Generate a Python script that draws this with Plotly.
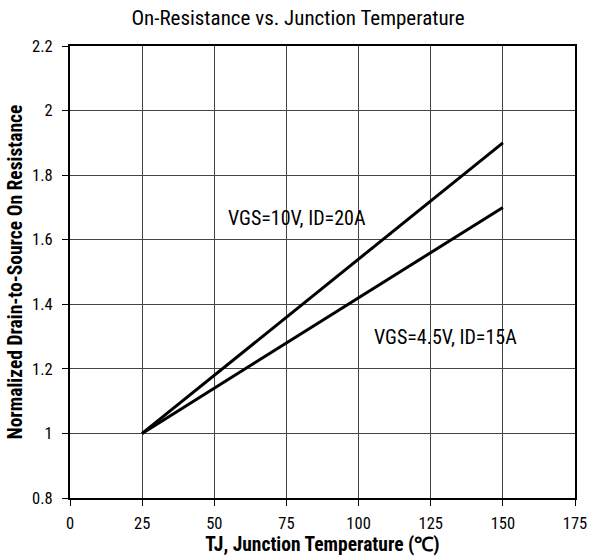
import plotly.graph_objects as go

temps = [25, 150]
r_vgs10 = [1.0, 1.9]
r_vgs45 = [1.0, 1.7]
x_ticks = [0, 25, 50, 75, 100, 125, 150, 175]
y_ticks = [0.8, 1.0, 1.2, 1.4, 1.6, 1.8, 2.0, 2.2]
y_tick_labels = ["0.8", "1", "1.2", "1.4", "1.6", "1.8", "2", "2.2"]

FONT = "Roboto Condensed, Liberation Sans, sans-serif"

fig = go.Figure()
fig.add_trace(go.Scatter(x=temps, y=r_vgs10, mode="lines",
                         line=dict(color="black", width=3), showlegend=False))
fig.add_trace(go.Scatter(x=temps, y=r_vgs45, mode="lines",
                         line=dict(color="black", width=3), showlegend=False))

fig.add_annotation(x=78.5, y=1.667, text="VGS=10V, ID=20A", showarrow=False,
                   font=dict(family=FONT, size=20, color="black"))
fig.add_annotation(x=130, y=1.30, text="VGS=4.5V, ID=15A", showarrow=False,
                   font=dict(family=FONT, size=20, color="black"))

fig.update_layout(
    width=589, height=557,
    margin=dict(l=70, r=14, t=46, b=59),
    paper_bgcolor="white", plot_bgcolor="white",
    font=dict(family=FONT, size=16, color="black"),
    title=dict(text="On-Resistance vs. Junction Temperature", x=0.506, xanchor="center",
               y=0.968, yanchor="middle", font=dict(family=FONT, size=21, color="black")),
)
fig.update_xaxes(range=[0, 175], tickvals=x_ticks, ticktext=[str(v) for v in x_ticks],
                 showgrid=True, gridcolor="#444", gridwidth=1,
                 showline=True, linecolor="black", linewidth=2, mirror=True,
                 ticks="outside", ticklen=6, tickcolor="black", zeroline=False,
                 automargin=False, ticklabelstandoff=3,
                 title=dict(text="<b>TJ, Junction Temperature (℃)</b>", standoff=3,
                            font=dict(family=FONT, size=19.5, color="black")),
                 tickfont=dict(family=FONT, size=16.5, color="black"))
fig.update_yaxes(range=[0.8, 2.2], tickvals=y_ticks, ticktext=y_tick_labels,
                 showgrid=True, gridcolor="#444", gridwidth=1,
                 showline=True, linecolor="black", linewidth=2, mirror=True,
                 ticks="outside", ticklen=6, tickcolor="black", zeroline=False,
                 automargin=False, ticklabelstandoff=6,
                 title=dict(text="<b>Normalized Drain-to-Source On Resistance</b>", standoff=4,
                            font=dict(family=FONT, size=19.5, color="black")),
                 tickfont=dict(family=FONT, size=16.5, color="black"))

fig.write_html("out.html", config={"displayModeBar": False},
               post_script="document.body.style.margin='0';document.body.style.overflow='hidden';")
